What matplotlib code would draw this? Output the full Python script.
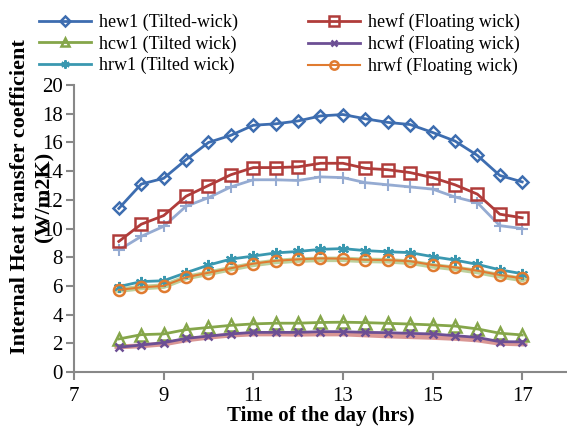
import numpy as np
import matplotlib
matplotlib.use("Agg")
import matplotlib.pyplot as plt

plt.rcParams['font.family'] = ['Liberation Serif', 'DejaVu Serif']

# time of day, 8:00 to 17:00 every half hour
hours = [8, 8.5, 9, 9.5, 10, 10.5, 11, 11.5, 12, 12.5, 13,
         13.5, 14, 14.5, 15, 15.5, 16, 16.5, 17]

hew1 = [11.4, 13.1, 13.5, 14.8, 16.0, 16.5, 17.2, 17.3, 17.5, 17.85, 17.95,
        17.65, 17.4, 17.25, 16.7, 16.1, 15.1, 13.7, 13.25]
hewf = [9.1, 10.3, 10.9, 12.25, 13.0, 13.75, 14.25, 14.25, 14.3, 14.55, 14.55,
        14.2, 14.1, 13.9, 13.55, 13.05, 12.4, 11.0, 10.75]
hew_extra = [8.5, 9.45, 10.15, 11.55, 12.15, 12.9, 13.4, 13.4, 13.35, 13.6, 13.55,
             13.2, 13.05, 12.9, 12.75, 12.2, 11.8, 10.2, 10.0]
hcw1 = [2.3, 2.6, 2.65, 2.95, 3.1, 3.25, 3.35, 3.4, 3.4, 3.45, 3.47,
        3.44, 3.39, 3.34, 3.28, 3.2, 3.0, 2.7, 2.58]
hcwf = [1.72, 1.88, 2.04, 2.34, 2.5, 2.65, 2.76, 2.76, 2.76, 2.81, 2.81,
        2.76, 2.74, 2.69, 2.65, 2.53, 2.41, 2.11, 2.1]
hcw_extra = [1.75, 1.82, 1.95, 2.23, 2.42, 2.57, 2.65, 2.65, 2.63, 2.65, 2.65,
             2.58, 2.51, 2.46, 2.41, 2.34, 2.23, 2.0, 1.95]
hrw1 = [5.95, 6.3, 6.36, 6.92, 7.45, 7.87, 8.08, 8.3, 8.4, 8.55, 8.6,
        8.46, 8.38, 8.32, 8.04, 7.8, 7.5, 7.12, 6.85]
hrwf = [5.72, 5.9, 6.0, 6.6, 6.92, 7.23, 7.55, 7.75, 7.85, 7.92, 7.9,
        7.82, 7.8, 7.72, 7.46, 7.29, 7.06, 6.76, 6.53]
hrw_extra = [5.7, 5.88, 5.98, 6.58, 6.88, 7.2, 7.5, 7.7, 7.8, 7.85, 7.85,
             7.78, 7.75, 7.65, 7.4, 7.22, 7.0, 6.7, 6.45]

fig = plt.figure(figsize=(5.67, 4.32), dpi=100)
ax = fig.add_axes([0.1305, 0.139, 0.8695, 0.664])

# lighter companion series (not in legend)
ax.plot(hours, hew_extra, color='#95abd2', lw=2, marker='+', ms=8, mew=1.5)
ax.plot(hours, hrw_extra, color='#bcd09c', lw=4, marker='_', ms=8, mew=2)
ax.plot(hours, hcw_extra, color='#d99694', lw=3.5, marker='_', ms=7, mew=2)

l1, = ax.plot(hours, hew1, color='#3d6db0', lw=2, marker='D', ms=6.5,
              mfc='none', mew=1.8, label='hew1 (Tilted-wick)')
l2, = ax.plot(hours, hewf, color='#b03c3a', lw=2, marker='s', ms=9,
              mfc='none', mew=1.8, label='hewf (Floating wick)')
l3, = ax.plot(hours, hcw1, color='#85a64a', lw=2, marker='^', ms=8,
              mfc='none', mew=1.8, label='hcw1 (Tilted wick)')
l4, = ax.plot(hours, hcwf, color='#6c4f94', lw=2, marker='x', ms=6,
              mew=1.8, label='hcwf (Floating wick)')
l5, = ax.plot(hours, hrw1, color='#3a98b0', lw=2, marker=(6, 2, 0), ms=8,
              mew=1.5, label='hrw1 (Tilted wick)')
l6, = ax.plot(hours, hrwf, color='#e07b30', lw=1.5, marker='o', ms=8,
              mfc='none', mew=1.8, label='hrwf (Floating wick)')

ax.set_xlim(7, 18)
ax.set_ylim(0, 20)
ax.set_xticks([7, 9, 11, 13, 15, 17])
ax.set_yticks(range(0, 21, 2))
for s in ['top', 'right']:
    ax.spines[s].set_visible(False)
for s in ['left', 'bottom']:
    ax.spines[s].set_color('#888888')
    ax.spines[s].set_linewidth(1.5)
ax.tick_params(colors='#888888', width=1.5, length=6, labelsize=15,
               labelcolor='black')
ax.tick_params(axis='y', pad=2)
ax.tick_params(axis='x', pad=5)

ax.set_xlabel('Time of the day (hrs)', fontsize=15, fontweight='bold',
              labelpad=0)
fig.text(0.036, 0.545, 'Internal Heat transfer coefficient', rotation=90,
         ha='center', va='center', fontsize=16, fontweight='bold')
fig.text(0.078, 0.545, '(W/m2K)', rotation=90,
         ha='center', va='center', fontsize=16, fontweight='bold')

fig.legend(handles=[l1, l3, l5, l2, l4, l6], ncol=2, loc='upper left',
           bbox_to_anchor=(0.045, 1.0), frameon=False, fontsize=13,
           handlelength=2.9, handletextpad=0.4, columnspacing=3.9,
           labelspacing=0.22, borderpad=0.25, markerscale=0.75)

fig.savefig('out.png', dpi=100)
